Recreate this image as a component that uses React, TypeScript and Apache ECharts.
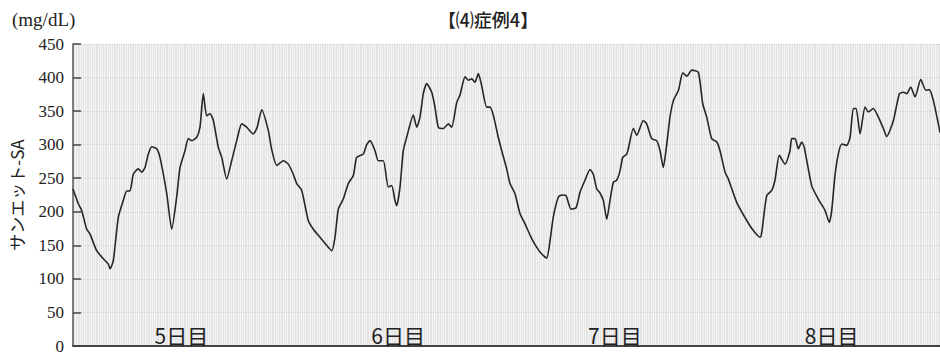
import React, { useEffect, useRef } from "react";
import * as echarts from "echarts";

// Elapsed hours from the start of day 5
const hours = [
  0, 0.59, 0.96, 1.52, 1.88, 2.62, 3.36, 3.91, 4.1, 4.46, 5.02, 5.57, 5.95, 6.31, 6.68, 7.23, 7.61, 7.97,
  8.34, 8.71, 9.27, 9.63, 10.38, 10.93, 11.48, 11.85, 12.4, 12.77, 13.14, 13.7, 14.06, 14.43, 14.8, 15.17,
  15.54, 16.09, 16.47, 17.02, 17.57, 18.13, 18.68, 19.23, 19.96, 20.37, 20.9, 21.63, 22.0, 22.56, 23.29,
  23.84, 24.39, 24.77, 25.32, 26.05, 26.61, 27.35, 28.09, 28.65, 29.01, 29.38, 29.93, 30.48, 31.04, 31.41,
  32.14, 32.52, 32.89, 33.44, 33.81, 34.36, 34.91, 35.29, 35.65, 35.84, 36.21, 36.57, 36.95, 37.68, 38.06,
  38.42, 38.79, 39.17, 39.72, 40.08, 40.45, 41.0, 41.56, 41.93, 42.49, 42.85, 43.41, 43.77, 44.15, 44.51,
  44.88, 45.25, 45.81, 46.17, 46.54, 47.09, 47.47, 48.02, 48.39, 48.94, 49.5, 50.05, 50.79, 51.35, 51.9,
  52.45, 52.82, 53.18, 53.74, 54.11, 54.59, 55.14, 55.7, 56.14, 56.69, 57.25, 57.61, 57.99, 58.35, 58.72,
  59.1, 59.46, 59.83, 60.2, 60.57, 60.87, 61.31, 61.49, 62.04, 62.42, 63.15, 63.52, 64.08, 64.63, 65.0,
  65.36, 65.74, 66.1, 66.49, 67.04, 67.52, 67.97, 68.51, 69.24, 69.73, 70.17, 70.72, 71.28, 71.64, 72.2,
  72.56, 73.49, 74.6, 75.33, 76.07, 76.26, 76.81, 77.37, 77.73, 78.21, 78.84, 79.39, 79.58, 79.95, 80.31,
  80.69, 80.97, 81.79, 82.52, 83.27, 83.74, 84.01, 84.37, 84.74, 85.12, 85.67, 86.04, 86.41, 86.71, 87.15,
  87.7, 88.07, 88.62, 89.18, 89.73, 90.1, 90.84, 91.5, 91.95, 92.32, 92.76, 93.24, 93.87, 94.43, 94.82,
  95.26, 95.82, 96.0,
];

// Sensor glucose (mg/dL)
const glucose = [
  234, 212, 202, 174, 167, 142, 130, 122, 115, 127, 192, 217, 231, 231, 256, 264, 259, 266,
  286, 297, 294, 281, 227, 174, 222, 266, 291, 309, 306, 311, 326, 376, 343, 346,
  336, 296, 281, 249, 276, 306, 331, 326, 316, 325, 352, 321, 293, 269, 276,
  271, 256, 242, 232, 187, 174, 162, 150, 142, 162, 204, 219, 242, 254, 281,
  286, 300, 306, 291, 276, 276, 237, 239, 217, 209, 237, 291, 311, 344, 326,
  341, 376, 391, 378, 356, 326, 324, 331, 326, 363, 374, 401, 396, 398, 393,
  406, 388, 356, 356, 344, 311, 291, 264, 242, 227, 197, 182, 160, 147, 137,
  131, 157, 192, 222, 225, 224, 204, 206, 229, 247, 263, 256, 234, 228, 217,
  189, 217, 244, 247, 261, 281, 286, 294, 324, 314, 336, 331, 309, 306, 291,
  266, 300, 341, 366, 381, 407, 402, 411, 408, 361, 341, 309, 304, 291, 259,
  249, 214, 187, 172, 162, 169, 224, 232, 247, 284, 271, 291, 309, 309, 294,
  304, 296, 239, 219, 202, 184, 202, 254, 286, 301, 299, 311, 354, 354, 316,
  356, 349, 354, 341, 324, 312, 336, 376, 378, 376, 386, 371, 397, 381, 382,
  366, 331, 318,
];

const days = ["5日目", "6日目", "7日目", "8日目"];
const yTicks = { min: 0, max: 450, step: 50 };

const title = "【⑷症例4】";
const unitLabel = "(mg/dL)";
const yName = "サンエット-SA";

export default function App() {
  const ref = useRef<HTMLDivElement>(null);

  useEffect(() => {
    if (!ref.current) return;
    const chart = echarts.init(ref.current, undefined, { renderer: "svg" });
    const series = hours.map((h, i) => [h, glucose[i]]);

    chart.setOption({
      animation: false,
      backgroundColor: "#ffffff",
      grid: {
        left: 73,
        right: 0,
        top: 44,
        bottom: 7,
        show: true,
        backgroundColor: "#e5e5e5",
        borderWidth: 0,
        containLabel: false,
        outerBoundsMode: "none",
      },
      graphic: [
        {
          type: "text",
          x: 12,
          y: 19,
          style: {
            text: unitLabel,
            font: '19px "Liberation Serif", serif',
            fill: "#222",
            textAlign: "left",
            textVerticalAlign: "middle",
          },
        },
        {
          type: "text",
          x: 488,
          y: 19,
          style: {
            text: title,
            font: '500 18px "Noto Sans CJK JP", sans-serif',
            fill: "#222",
            textAlign: "center",
            textVerticalAlign: "middle",
          },
        },
      ],
      xAxis: [
        {
          type: "value",
          min: 0,
          max: 96,
          interval: 0.25,
          axisLine: { show: false },
          axisTick: { show: false },
          axisLabel: { show: false },
          splitLine: { show: true, lineStyle: { color: "#f4f4f4", width: 0.9 } },
        },
        {
          type: "category",
          data: days,
          position: "bottom",
          boundaryGap: true,
          axisLine: { show: true, lineStyle: { color: "#444", width: 2 } },
          axisTick: { show: false },
          splitLine: { show: false },
          axisLabel: {
            inside: true,
            margin: 1,
            color: "#222",
            fontSize: 21,
            fontFamily: "Noto Sans CJK JP",
          },
        },
      ],
      yAxis: {
        type: "value",
        min: yTicks.min,
        max: yTicks.max,
        interval: yTicks.step,
        name: yName,
        nameLocation: "middle",
        nameRotate: 90,
        nameGap: 48,
        nameTextStyle: { fontSize: 17, color: "#222", fontFamily: "Noto Sans CJK JP" },
        axisLine: { show: true, lineStyle: { color: "#555", width: 1.5 } },
        axisTick: { show: true, inside: true, length: 8, lineStyle: { color: "#444", width: 1.5 } },
        axisLabel: {
          color: "#222",
          fontSize: 17,
          lineHeight: 13,
          fontFamily: "Liberation Serif",
          margin: 9,
        },
        splitLine: { show: true, lineStyle: { color: "#d2d2d2", width: 1.2 } },
      },
      series: [
        {
          type: "line",
          xAxisIndex: 0,
          data: series,
          showSymbol: false,
          smooth: 0.2,
          lineStyle: { color: "#262626", width: 1.6 },
          z: 5,
        },
      ],
    });

    return () => chart.dispose();
  }, []);

  return (
    <div
      ref={ref}
      style={{ position: "fixed", left: 0, top: 0, width: 940, height: 353 }}
    />
  );
}
